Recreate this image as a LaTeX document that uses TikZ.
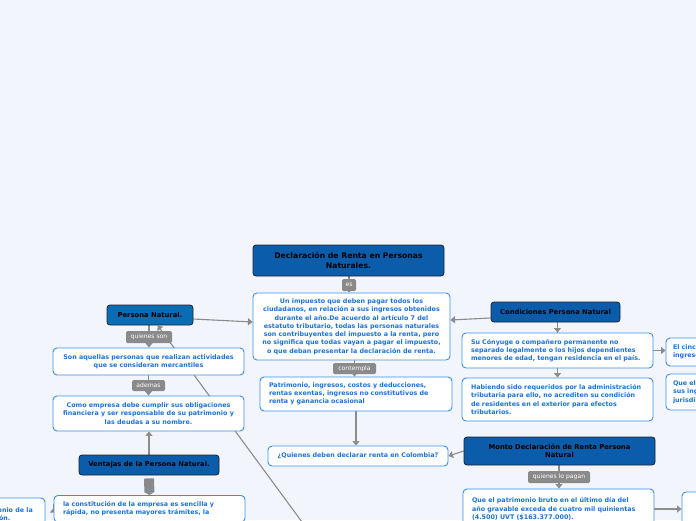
\documentclass[tikz,border=0pt]{standalone}
\usepackage{fontspec}
\setmainfont{DejaVu Sans}
\usetikzlibrary{arrows.meta,calc,backgrounds}
\definecolor{bgc}{RGB}{243,245,253}
\definecolor{darkblue}{RGB}{12,92,172}
\definecolor{pnblue}{RGB}{10,108,178}
\definecolor{darkedge}{RGB}{25,35,50}
\definecolor{boxedge}{RGB}{58,142,230}
\definecolor{boxtext}{RGB}{28,115,215}
\definecolor{lblgray}{RGB}{138,138,138}
\definecolor{conngray}{RGB}{140,140,140}
\newcommand\ttlfont{\fontsize{7.7}{9.2}\selectfont\bfseries}
\newcommand\dkfont{\fontsize{6.8}{8.2}\selectfont\bfseries}
\newcommand\bxfont{\fontsize{6.35}{8.25}\selectfont\bfseries}
\newcommand\lbfont{\fontsize{6.1}{7}\selectfont}
\tikzset{
  dark/.style={draw=darkedge, fill=darkblue, rounded corners=3pt, line width=0.8pt, font=\dkfont, text=black, align=center, inner sep=1pt},
  wbox/.style={draw=boxedge, fill=white, rounded corners=4pt, line width=0.9pt, font=\bxfont, text=boxtext, inner sep=1pt},
  lbl/.style={fill=lblgray, text=white, rounded corners=1.5pt, font=\lbfont, inner sep=1pt},
  conn/.style={draw=conngray, line width=1.1pt, -{Triangle[width=7pt,length=4.5pt]}},
  fat/.style={draw=lblgray, line width=10pt, -{Triangle[width=10pt,length=3pt]}},
}
\begin{document}
\begin{tikzpicture}[x=1pt,y=-1pt]
\useasboundingbox (0,0) rectangle (696,520);

% center column
\node[dark, font=\ttlfont, minimum width=191pt, minimum height=31pt] (title) at (348.5,260.5) {Declaración de Renta en Personas\\Naturales.};
\node[lbl, minimum width=14pt, minimum height=12pt] (es) at (349,285) {es};
\node[wbox, align=center, minimum width=197pt, minimum height=67pt] (main) at (351.5,326.5) {Un impuesto que deben pagar todos los\\ciudadanos, en relación a sus ingresos obtenidos\\durante el año.De acuerdo al artículo 7 del\\estatuto tributario, todas las personas naturales\\son contribuyentes del impuesto a la renta, pero\\no significa que todas vayan a pagar el impuesto,\\o que deban presentar la declaración de renta.};
\node[lbl, minimum width=43pt, minimum height=11pt] (contempla) at (354.5,368.5) {contempla};
\node[wbox, align=left, text width=174pt, minimum width=192pt, minimum height=34pt] (patr) at (356,394) {Patrimonio, ingresos, costos y deducciones,\\rentas exentas, ingresos no constitutivos de\\renta y ganancia ocasional};
\node[wbox, align=center, minimum width=180pt, minimum height=20pt] (quienes) at (358,456) {¿Quienes deben declarar renta en Colombia?};

% right column
\node[dark, minimum width=129pt, minimum height=20pt] (cond) at (555.5,312) {Condiciones Persona Natural};
\node[wbox, align=left, text width=173pt, minimum width=191pt, minimum height=35pt] (cony) at (557.5,350.5) {Su Cónyuge o compañero permanente no\\separado legalmente o los hijos dependientes\\menores de edad, tengan residencia en el país.};
\node[wbox, align=left, text width=173pt, minimum width=191pt, minimum height=43pt] (habi) at (557.5,399.5) {Habiendo sido requeridos por la administración\\tributaria para ello, no acrediten su condición\\de residentes en el exterior para efectos\\tributarios.};
\node[wbox, align=left, text width=177pt, minimum width=191pt, minimum height=28pt] (elcinco) at (761.5,352) {El cincuenta por ciento (50\%) o más de sus\\ingresos sean de fuente nacional.};
\node[wbox, align=left, text width=177pt, minimum width=191pt, minimum height=36pt] (queel) at (761.5,392) {Que el cincuenta por ciento (50\%) o más de\\sus ingresos provengan de una\\jurisdicción calificada como paraíso fiscal.};
\node[dark, minimum width=191pt, minimum height=28pt] (monto) at (559.5,451) {Monto Declaración de Renta Persona\\Natural};
\node[lbl, minimum width=62pt, minimum height=12pt] (pagan) at (559,477) {quienes lo pagan};
\node[wbox, align=left, text width=173pt, minimum width=191pt, minimum height=40pt] (patbruto) at (558.5,509) {Que el patrimonio bruto en el último día del\\año gravable exceda de cuatro mil quinientas\\(4.500) UVT (\$163.377.000).};
\node[wbox, minimum width=191pt, minimum height=40pt] (farright) at (777.5,512) {};

% left column
\node[dark, fill=pnblue, minimum width=86pt, minimum height=20pt] (pn) at (150,315) {Persona Natural.};
\node[lbl, minimum width=46pt, minimum height=12pt] (qson) at (149,337) {quienes son};
\node[wbox, align=center, minimum width=191pt, minimum height=27pt] (son) at (148.5,361.5) {Son aquellas personas que realizan actividades\\que se consideran mercantiles};
\node[lbl, minimum width=33pt, minimum height=11pt] (ademas) at (148.5,385.5) {ademas};
\node[wbox, align=center, minimum width=191pt, minimum height=35pt] (como) at (148.5,413.5) {Como empresa debe cumplir sus obligaciones\\financiera y ser responsable de su patrimonio y\\las deudas a su nombre.};
\node[dark, minimum width=140pt, minimum height=20pt] (ventajas) at (149,465) {Ventajas de la Persona Natural.};
\node[wbox, align=left, text width=173pt, minimum width=191pt, inner ysep=6pt, anchor=north] (constitucion) at (149.5,495) {la constitución de la empresa es sencilla y\\rápida, no presenta mayores trámites, la};
\node[wbox, minimum width=191pt, minimum height=42pt] (farleft) at (-50.5,519) {};
\node[anchor=base east, font=\bxfont, text=boxtext, inner sep=0pt] (fl1) at (33,512) {El dueño responde con el patrimonio de la};
\node[anchor=base east, font=\bxfont, text=boxtext, inner sep=0pt] (fl2) at (10.5,520) {organización.};

\coordinate (diagend) at (302,522);

\begin{scope}[on background layer]
\fill[bgc] (0,0) rectangle (696,520);
\draw[conn] (title.south -| es) -- (main.north -| es);
\draw[conn] (main.south -| contempla) -- (patr.north -| contempla);
\draw[conn] (patr.south) -- (patr.south |- quienes.north);
\draw[conn] ($(pn.east)+(0,4)$) -- ($(main.west)+(0,-4.5)$);
\draw[conn] ($(cond.west)+(0,6)$) -- ($(main.east)+(0,-6.5)$);
\draw[conn] (cond.south -| cony.north) -- (cony.north);
\draw[conn] (cond.south -| habi.north) -- (habi.north);
\draw[conn] (cony.east) -- (cony.east -| elcinco.west);
\draw[conn] (monto.west) -- (quienes.east);
\draw[conn] (monto.south -| pagan) -- (patbruto.north -| pagan);
\draw[conn] (patbruto.east) -- (patbruto.east -| farright.west);
\draw[conn] (pn.south -| qson) -- (son.north -| qson);
\draw[conn] (son.south -| ademas) -- (como.north -| ademas);
\draw[conn] (ventajas.north) -- (ventajas.north |- como.south);
\draw[fat] ($(ventajas.south)+(0,3)$) -- (constitucion.north);
\draw[conn] ($(constitucion.north west)+(0,13)$) -- ($(constitucion.north west)+(0,13)$ -| farleft.east);
\draw[conn] (diagend) -- (pn);
\end{scope}
\end{tikzpicture}
\end{document}
